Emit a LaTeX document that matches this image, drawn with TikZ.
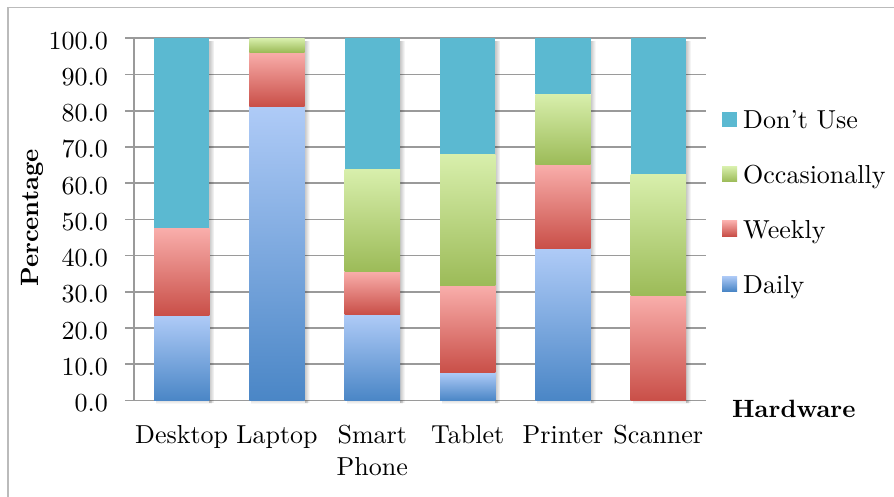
\documentclass[tikz,border=0pt]{standalone}
\usepackage{fontspec}
\setmainfont{lmroman10-regular.otf}[BoldFont=lmroman10-bold.otf]
\usetikzlibrary{fadings}
\definecolor{dailyT}{HTML}{AFCBF7}
\definecolor{dailyB}{HTML}{4A86C6}
\definecolor{weekT}{HTML}{F9AEAB}
\definecolor{weekB}{HTML}{C94F48}
\definecolor{occT}{HTML}{D8EFAC}
\definecolor{occB}{HTML}{9CBB58}
\definecolor{dont}{HTML}{5BB9D1}
\definecolor{gridc}{HTML}{9A9A9A}
\definecolor{framec}{HTML}{BBBBBB}
\tikzset{
  gridline/.style={draw=gridc, line width=1.6pt},
  ticklab/.style={anchor=base east, inner sep=0pt},
  catlab/.style={anchor=base, inner sep=0pt, align=center},
  leglab/.style={anchor=base west, inner sep=0pt},
  axtitle/.style={inner sep=0pt, font=\fontsize{25}{30}\selectfont\bfseries},
  dailyfill/.style={top color=dailyT, bottom color=dailyB},
  weekfill/.style={top color=weekT, bottom color=weekB},
  occfill/.style={top color=occT, bottom color=occB},
  dontfill/.style={fill=dont},
}
% #1 centre x, #2 daily top, #3 weekly top, #4 occasionally top (all cumulative %)
\newcommand\hwbar[4]{%
  \pgfmathsetmacro\xl{#1-27.7}%
  \pgfmathsetmacro\xr{#1+27.7}%
  \pgfmathsetmacro\yd{400.5-3.622*#2}%
  \pgfmathsetmacro\yw{400.5-3.622*#3}%
  \pgfmathsetmacro\yo{400.5-3.622*#4}%
  \fill[black, opacity=0.22, path fading=east] (\xr,41) rectangle (\xr+5,403);
  \fill[black, opacity=0.12, path fading=south] (\xl+2,400.5) rectangle (\xr+3,404);
  \ifdim #2pt>0pt \shade[dailyfill] (\xl,400.5) rectangle (\xr,\yd);\fi
  \ifdim #3pt>#2pt \shade[weekfill] (\xl,\yd) rectangle (\xr,\yw);\fi
  \ifdim #4pt>#3pt \shade[occfill] (\xl,\yw) rectangle (\xr,\yo);\fi
  \ifdim #4pt<100pt \fill[dontfill] (\xl,\yo) rectangle (\xr,38.3);\fi
}
\begin{document}
\begin{tikzpicture}[x=1pt, y=-1pt, font=\fontsize{26}{32}\selectfont]
\useasboundingbox (0,0) rectangle (894,497);
\fill[white] (0,0) rectangle (894,497);
% outer chart frame (cropped at right and bottom)
\draw[framec, line width=1.4pt] (8,510) -- (8,7.5) -- (910,7.5);
% gridlines and tick labels
\foreach \v [count=\i] in {0,10,20,30,40,50,60,70,80,90,100} {
  \pgfmathsetmacro\yy{400.5-3.622*\v}
  \draw[gridline] (125,\yy) -- (706,\yy);
  \node[ticklab] (tick\i) at (108,\yy+11) {\v.0};
}
\draw[gridline] (134,38.3) -- (134,400.5);
% bars
\hwbar{181.7}{23.5}{47.5}{47.5}
\hwbar{277.0}{81.2}{96.2}{100}
\hwbar{372.3}{23.8}{35.6}{63.8}
\hwbar{467.7}{7.8}{31.8}{68.0}
\hwbar{563.0}{42.0}{65.2}{84.6}
\hwbar{658.3}{0}{29.1}{62.4}
% category labels
\node[catlab] (cDesk) at (181.7,443) {Desktop};
\node[catlab] (cLap) at (277.0,443) {Laptop};
\node[catlab] (cPhone) at (372.3,475) {Smart\\Phone};
\node[catlab] (cTab) at (467.7,443) {Tablet};
\node[catlab] (cPrint) at (563.0,443) {Printer};
\node[catlab] (cScan) at (658.3,443) {Scanner};
% axis titles
\node[axtitle, rotate=90, anchor=base] (ytitle) at (38,218) {Percentage};
\node[axtitle, anchor=base west] (xtitle) at (732,417) {Hardware};
% legend
\fill[dontfill] (722,112) rectangle (737,127);
\node[leglab] (lDont) at (743,129) {Don’t Use};
\shade[occfill] (722,166.5) rectangle (737,181.5);
\node[leglab] (lOcc) at (743,183.5) {Occasionally};
\shade[weekfill] (722,221) rectangle (737,236);
\node[leglab] (lWeek) at (743,238) {Weekly};
\shade[dailyfill] (722,276) rectangle (737,291);
\node[leglab] (lDaily) at (743,293) {Daily};
\end{tikzpicture}
\end{document}
